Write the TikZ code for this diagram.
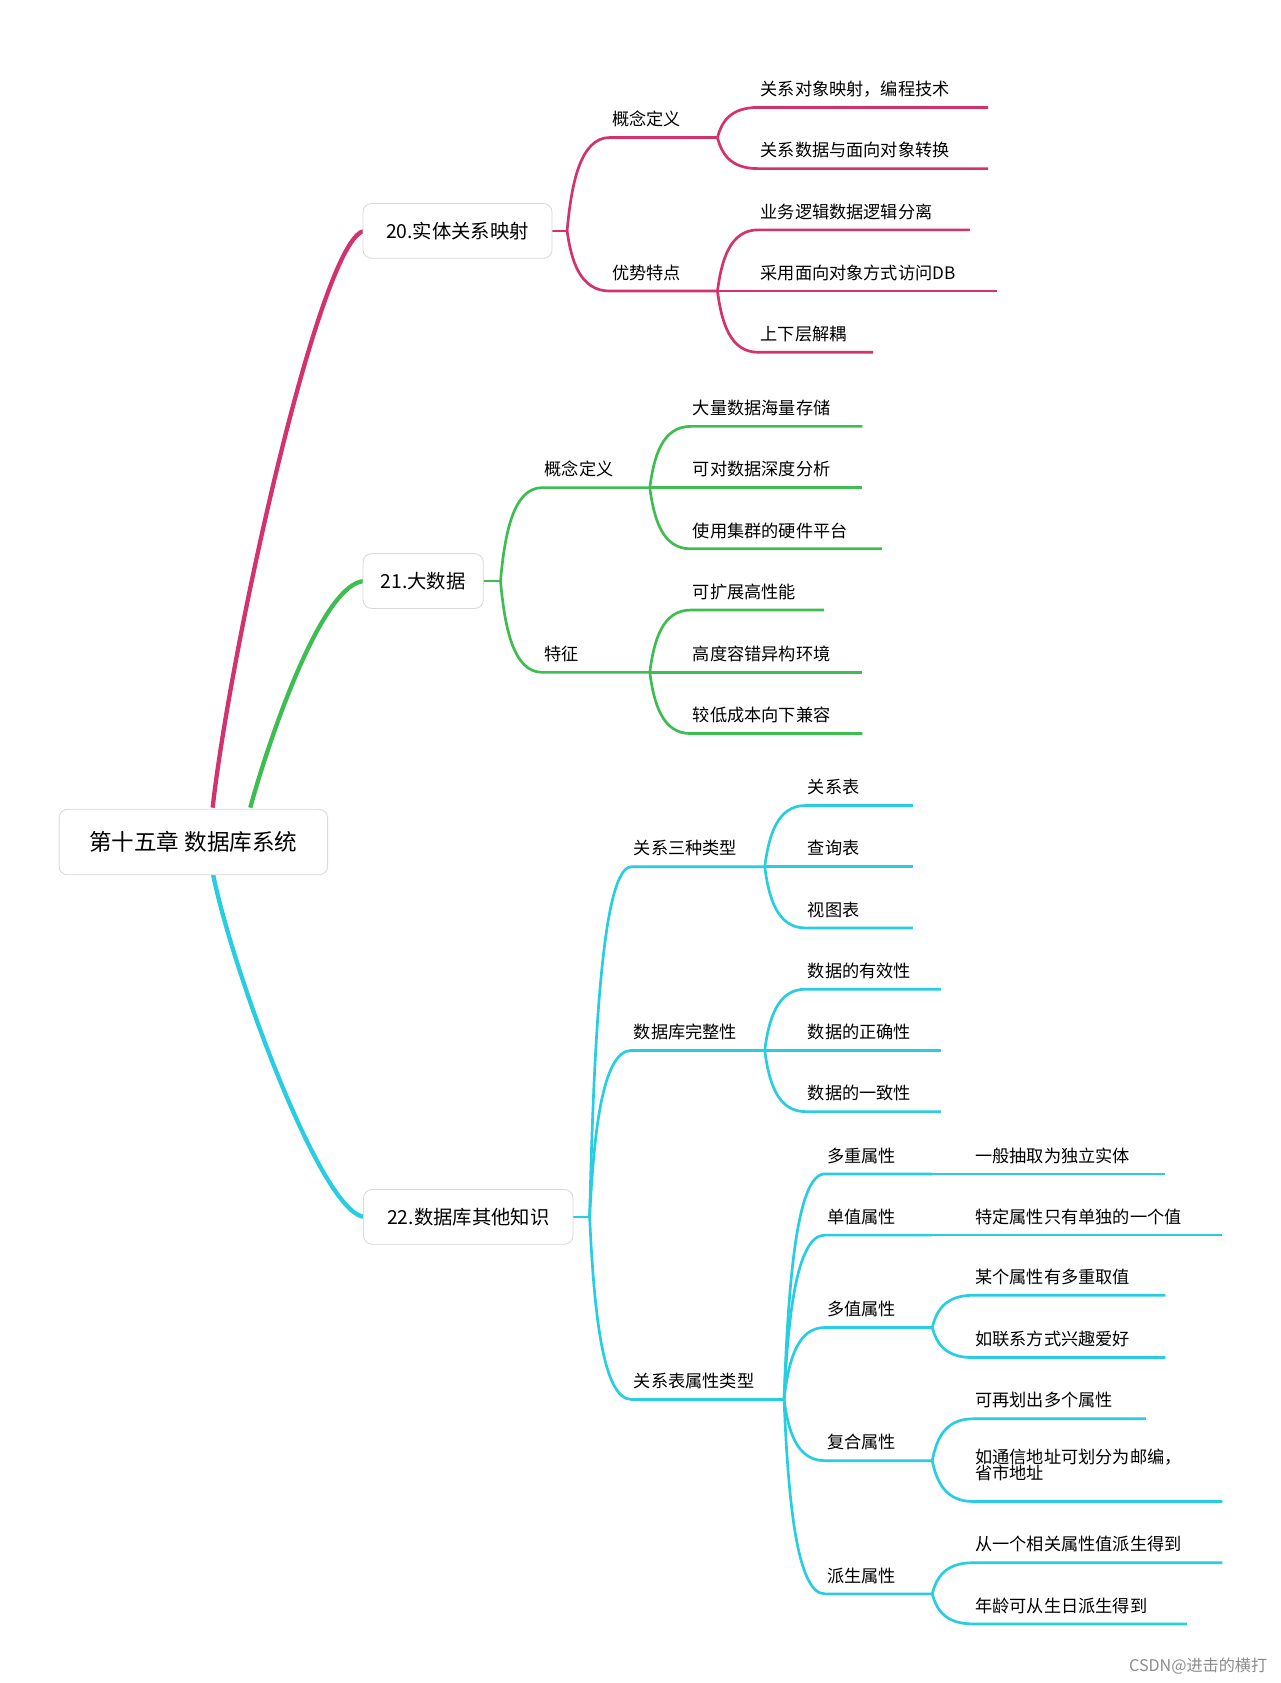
\documentclass[tikz,border=0pt]{standalone}
\usepackage{fontspec}
\setmainfont{Noto Sans CJK SC}
\begin{document}
\definecolor{cp}{RGB}{212,50,110}
\definecolor{cg}{RGB}{62,190,82}
\definecolor{cc}{RGB}{40,205,225}
\tikzset{lbl/.style={anchor=base west,inner sep=0,font=\fontsize{16}{18}\selectfont},
 box/.style={draw=black!15,rounded corners=8,fill=white,line width=0.8,font=\fontsize{18}{20}\selectfont,inner sep=0}}
\newcommand\br[8]{%
 \coordinate (#8) at (#3,-#4);
 \draw[#6,line width=2.5] (#1,-#2) .. controls ({#1+0.1*(#3-#1)},{-#2-0.5*(#4-#2)}) and ({#1+0.3*(#3-#1)},-#4) .. (#8) -- (#5,-#4);
 \node[lbl] (#8t) at (#3+2,-#4+11) {#7};}
\begin{tikzpicture}[x=1pt,y=1pt]
\useasboundingbox (0,0) rectangle (1192,-1567);
% root lines
\draw[cp,line width=4] (198,-752) .. controls (215,-600) and (300,-215) .. (340,-215);
\draw[cg,line width=4] (233,-752) .. controls (250,-690) and (300,-541) .. (340,-541);
\draw[cc,line width=4] (198,-812) .. controls (215,-900) and (300,-1133) .. (340,-1133);
\node[box,minimum width=250,minimum height=61] (root) at (180,-784) {\fontsize{21}{24}\selectfont 第十五章 数据库系统};
% 20
\draw[cp,line width=2.5] (514,-215) -- (528,-215);
\node[box,minimum width=176,minimum height=51] (n20) at (426,-215) {20.实体关系映射};
\br{528}{215}{568}{128}{668}{cp}{概念定义}{a1}
\br{528}{215}{568}{271}{668}{cp}{优势特点}{a2}
\br{668}{128}{706}{100}{920}{cp}{关系对象映射，编程技术}{a11}
\br{668}{128}{706}{157}{920}{cp}{关系数据与面向对象转换}{a12}
\br{668}{271}{706}{214}{903}{cp}{业务逻辑数据逻辑分离}{a21}
\br{668}{271}{706}{271}{928}{cp}{采用面向对象方式访问DB}{a22}
\br{668}{271}{706}{328}{813}{cp}{上下层解耦}{a23}
% 21
\draw[cg,line width=2.5] (450,-541) -- (466,-541);
\node[box,minimum width=112,minimum height=51] (n21) at (394,-541) {21.大数据};
\br{466}{541}{505}{454}{605}{cg}{概念定义}{b1}
\br{466}{541}{505}{626}{605}{cg}{特征}{b2}
\br{605}{454}{643}{397}{803}{cg}{大量数据海量存储}{b11}
\br{605}{454}{643}{454}{803}{cg}{可对数据深度分析}{b12}
\br{605}{454}{643}{511}{821}{cg}{使用集群的硬件平台}{b13}
\br{605}{626}{643}{568}{767}{cg}{可扩展高性能}{b21}
\br{605}{626}{643}{626}{803}{cg}{高度容错异构环境}{b22}
\br{605}{626}{643}{683}{803}{cg}{较低成本向下兼容}{b23}
% 22
\draw[cc,line width=2.5] (533,-1133) -- (549,-1133);
\node[box,minimum width=195,minimum height=51] (n22) at (436,-1133) {22.数据库其他知识};
\br{549}{1133}{588}{807}{712}{cc}{关系三种类型}{c1}
\br{549}{1133}{588}{978}{712}{cc}{数据库完整性}{c2}
\br{549}{1133}{588}{1303}{730}{cc}{关系表属性类型}{c3}
\br{712}{807}{750}{750}{850}{cc}{关系表}{c11}
\br{712}{807}{750}{807}{850}{cc}{查询表}{c12}
\br{712}{807}{750}{864}{850}{cc}{视图表}{c13}
\br{712}{978}{750}{921}{876}{cc}{数据的有效性}{c21}
\br{712}{978}{750}{978}{876}{cc}{数据的正确性}{c22}
\br{712}{978}{750}{1035}{876}{cc}{数据的一致性}{c23}
\br{730}{1303}{768}{1093}{868}{cc}{多重属性}{c31}
\br{730}{1303}{768}{1150}{868}{cc}{单值属性}{c32}
\br{730}{1303}{768}{1236}{868}{cc}{多值属性}{c33}
\br{730}{1303}{768}{1360}{868}{cc}{复合属性}{c34}
\br{730}{1303}{768}{1484}{868}{cc}{派生属性}{c35}
\br{868}{1093}{906}{1093}{1085}{cc}{一般抽取为独立实体}{d1}
\br{868}{1150}{906}{1150}{1138}{cc}{特定属性只有单独的一个值}{d2}
\br{868}{1236}{906}{1206}{1085}{cc}{某个属性有多重取值}{d31}
\br{868}{1236}{906}{1264}{1085}{cc}{如联系方式兴趣爱好}{d32}
\br{868}{1360}{906}{1321}{1067}{cc}{可再划出多个属性}{d41}
\coordinate (d42) at (906,-1398);
\draw[cc,line width=2.5] (868,-1360) .. controls (872,-1379) and (880,-1398) .. (d42) -- (1138,-1398);
\node[lbl,align=left,anchor=north west] (d42t) at (908,-1349) {如通信地址可划分为邮编，\\[-3pt]省市地址};
\br{868}{1484}{906}{1455}{1138}{cc}{从一个相关属性值派生得到}{d51}
\br{868}{1484}{906}{1512}{1105}{cc}{年龄可从生日派生得到}{d52}
\node[anchor=base east,inner sep=0,text=black!45,font=\fontsize{15}{16}\selectfont] (wm) at (1180,-1556) {CSDN@进击的横打};
\end{tikzpicture}
\end{document}
